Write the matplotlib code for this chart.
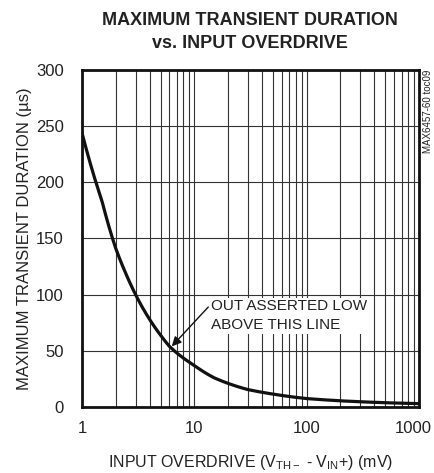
import matplotlib.pyplot as plt
import matplotlib.transforms as mtransforms
import numpy as np

plt.rcParams['font.family'] = ['Liberation Sans', 'DejaVu Sans']

# curve
overdrive = [1, 1.5, 2, 2.5, 3, 4, 5, 6, 7, 8, 10, 15, 20, 30, 50, 100, 200, 500, 1000]
duration = [244, 184, 141, 117, 100, 78, 64, 54, 48, 43.5, 37, 26, 21, 15.5, 11.5, 7.5, 5.5, 3.8, 3]

x_ticks = [1, 10, 100, 1000]
y_ticks = [0, 50, 100, 150, 200, 250, 300]

fig = plt.figure(figsize=(4.35, 4.73), dpi=100)
ax = fig.add_axes([82 / 435, 1 - 407 / 473, 337 / 435, 337 / 473])

ax.set_xscale('log')
ax.set_xlim(1, 1000)
ax.set_ylim(0, 300)

# join the read points in log-log space so the line bends smoothly
lx = np.log10(overdrive)
ly = np.log10(duration)
fine = np.linspace(0, 3, 400)
ax.plot(10 ** fine, 10 ** np.interp(fine, lx, ly), color='#111111', lw=2.3, zorder=3,
        solid_capstyle='butt')

ax.set_xticks(x_ticks)
ax.set_xticklabels(['1', '10', '100', '1000'])
ax.set_yticks(y_ticks)
ax.set_yticklabels([str(v) for v in y_ticks])
ax.xaxis.set_minor_locator(plt.matplotlib.ticker.LogLocator(base=10, subs=range(2, 10)))
ax.xaxis.set_minor_formatter(plt.NullFormatter())
ax.tick_params(which='both', length=0, labelsize=12, colors='#222222')
ax.tick_params(axis='y', pad=13)
ax.tick_params(axis='x', pad=10)

# nudge the last x label so it stays inside the picture
last = ax.get_xticklabels()[-1]
last.set_transform(last.get_transform() + mtransforms.ScaledTranslation(-6 / 100, 0, fig.dpi_scale_trans))

ax.grid(True, which='both', axis='x', color='#333333', lw=0.8)
ax.grid(True, which='major', axis='y', color='#333333', lw=0.8)
for s in ax.spines.values():
    s.set_linewidth(2)
    s.set_color('#111111')
    s.set_zorder(4)

ax.set_xlabel(r'INPUT OVERDRIVE (V$_{\mathregular{TH-}}$ - V$_{\mathregular{IN}}$+) (mV)',
              fontsize=11.5, color='#222222', labelpad=12)
ax.set_ylabel('MAXIMUM TRANSIENT DURATION (µs)', fontsize=12, color='#222222', labelpad=3)

fig.text(250 / 435, 0.975, 'MAXIMUM TRANSIENT DURATION\nvs. INPUT OVERDRIVE', ha='center', va='top',
         fontsize=13, fontweight='bold', color='#222222', linespacing=1.45)

ax.text(14.1, 96, 'OUT ASSERTED LOW\nABOVE THIS LINE', fontsize=11, color='#222222',
        va='top', ha='left', linespacing=1.45, zorder=5,
        bbox=dict(boxstyle='square,pad=0.1', fc='white', ec='none'))
ax.annotate('', xy=(6.3, 54), xytext=(13.3, 89),
            arrowprops=dict(arrowstyle='-|>', color='#111111', lw=1, shrinkA=0, shrinkB=0,
                            mutation_scale=14), zorder=5)

fig.text(428 / 435, 1 - 70 / 473, 'MAX6457-60 toc09', rotation=90, ha='center', va='top',
         fontsize=7, color='#222222')

fig.savefig('out.png', dpi=100)
